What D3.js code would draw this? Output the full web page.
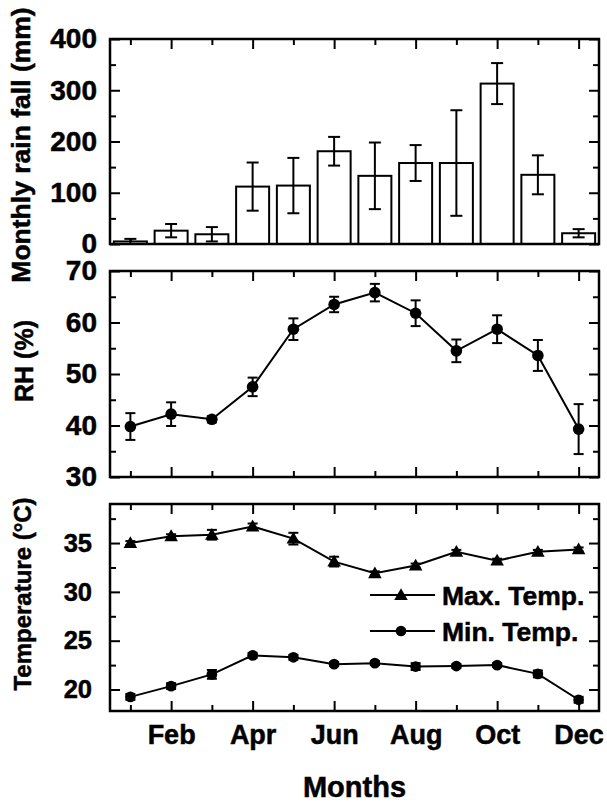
<!DOCTYPE html>
<html><head><meta charset="utf-8">
<script src="https://cdn.jsdelivr.net/npm/d3@7"></script>
<style>
body{margin:0;background:#fff}
text{font-family:"Liberation Sans",Arial,sans-serif;font-weight:bold;fill:#000;stroke:#000;stroke-width:0.5px}
</style>
</head><body>
<svg id="c" width="607" height="802"></svg>
<script>
// ---- data ----
const months = [1,2,3,4,5,6,7,8,9,10,11,12];
const monthNames = ["Jan","Feb","Mar","Apr","May","Jun","Jul","Aug","Sep","Oct","Nov","Dec"];
const majorMonths = [2,4,6,8,10,12];
const minorMonths = [1,3,5,7,9,11];

const rain    = [5, 26, 19, 112, 114, 181, 133, 158, 158, 313, 135, 21];
const rainErr = [5, 13, 14, 47, 54, 28, 65, 35, 103, 40, 38, 8];

const rh    = [39.8, 42.2, 41.2, 47.5, 58.7, 63.5, 65.8, 61.8, 54.5, 58.7, 53.6, 39.3];
const rhErr = [2.6, 2.3, 0.6, 1.8, 2.1, 1.5, 1.7, 2.5, 2.2, 2.7, 3.0, 4.85];

const tMax    = [35.0, 35.7, 35.85, 36.7, 35.45, 33.1, 31.9, 32.7, 34.1, 33.2, 34.1, 34.35];
const tMaxErr = [0.2, 0.2, 0.5, 0.3, 0.6, 0.5, 0.2, 0.2, 0.2, 0.2, 0.2, 0.2];
const tMin    = [19.25, 20.35, 21.55, 23.5, 23.3, 22.6, 22.7, 22.35, 22.4, 22.5, 21.6, 18.95];
const tMinErr = [0.3, 0.3, 0.45, 0.25, 0.25, 0.2, 0.2, 0.35, 0.2, 0.2, 0.35, 0.3];

const rainTicks = [0,100,200,300,400], rainMinor = [50,150,250,350];
const rhTicks = [30,40,50,60,70], rhMinor = [35,45,55,65];
const tempTicks = [20,25,30,35], tempMinor = [22.5,27.5,32.5,37.5];

const legendLabels = ["Max. Temp.", "Min. Temp."];
const titles = {rain:"Monthly rain fall (mm)", rh:"RH (%)", temp:"Temperature (\u00B0C)", x:"Months"};

// ---- layout ----
const svg = d3.select("#c");
const L = 110, R = 599;
const x = d3.scaleLinear().domain([0.5, 12.5]).range([L, R]);
const panels = [
  {key:"rain", top:39, bottom:244, domain:[0,400], ticks:rainTicks, minor:rainMinor, labelPad:13, labelSize:28, titleSize:26.5, titleX:30, titleY:145},
  {key:"rh", top:271, bottom:477, domain:[30,70], ticks:rhTicks, minor:rhMinor, labelPad:13, labelSize:28, titleSize:25, titleX:33, titleY:361},
  {key:"temp", top:504, bottom:711, domain:[17.8,39], ticks:tempTicks, minor:tempMinor, labelPad:18, labelSize:25.5, titleSize:24, titleX:31, titleY:594}
];
panels.forEach(p => p.y = d3.scaleLinear().domain(p.domain).range([p.bottom, p.top]));

const MAJ = 10, MIN = 6, TICKW = 2;
function styleAxis(g){
  g.select(".domain").remove();
  g.selectAll(".tick line").attr("stroke","#000").attr("stroke-width",TICKW);
  return g;
}

panels.forEach((p, idx) => {
  const g = svg.append("g");
  const isBottom = idx === panels.length - 1;
  const xb = g.append("g").attr("transform",`translate(0,${p.bottom})`)
    .call(d3.axisBottom(x).tickValues(majorMonths).tickSize(-MAJ)
      .tickFormat(d => isBottom ? monthNames[d-1] : ""));
  styleAxis(xb);
  xb.selectAll("text").attr("font-size",27).attr("dy",null).attr("y",744-711)
    .attr("font-family","Liberation Sans, Arial, sans-serif").attr("font-weight","bold");
  styleAxis(g.append("g").attr("transform",`translate(0,${p.bottom})`)
    .call(d3.axisBottom(x).tickValues(minorMonths).tickSize(-MIN).tickFormat("")));
  styleAxis(g.append("g").attr("transform",`translate(0,${p.top})`)
    .call(d3.axisTop(x).tickValues(majorMonths).tickSize(-MAJ).tickFormat("")));
  styleAxis(g.append("g").attr("transform",`translate(0,${p.top})`)
    .call(d3.axisTop(x).tickValues(minorMonths).tickSize(-MIN).tickFormat("")));
  const yl = g.append("g").attr("transform",`translate(${L},0)`)
    .call(d3.axisLeft(p.y).tickValues(p.ticks).tickSize(-MAJ).tickPadding(p.labelPad).tickFormat(d3.format("d")));
  styleAxis(yl);
  yl.selectAll("text").attr("font-size",p.labelSize)
    .attr("font-family","Liberation Sans, Arial, sans-serif").attr("font-weight","bold");
  styleAxis(g.append("g").attr("transform",`translate(${L},0)`)
    .call(d3.axisLeft(p.y).tickValues(p.minor).tickSize(-MIN).tickFormat("")));
  styleAxis(g.append("g").attr("transform",`translate(${R},0)`)
    .call(d3.axisRight(p.y).tickValues(p.ticks).tickSize(-MAJ).tickFormat("")));
  styleAxis(g.append("g").attr("transform",`translate(${R},0)`)
    .call(d3.axisRight(p.y).tickValues(p.minor).tickSize(-MIN).tickFormat("")));
  svg.append("text").attr("transform",`translate(${p.titleX},${p.titleY}) rotate(-90)`)
    .attr("text-anchor","middle").attr("font-size",p.titleSize).text(titles[p.key]);
});

// ---- rain bars ----
const pr = panels[0];
const barW = (x(2)-x(1))*0.81;
const gr = svg.append("g");
gr.selectAll("rect.bar").data(months).enter().append("rect")
  .attr("x", d => x(d)-barW/2).attr("width", barW)
  .attr("y", (d,i) => pr.y(rain[i])).attr("height", (d,i) => pr.y(0)-pr.y(rain[i]))
  .attr("fill","#fff").attr("stroke","#000").attr("stroke-width",2);
function errorBars(g, ys, vals, errs, cap){
  months.forEach((m,i) => {
    const cx = x(m), y1 = ys(vals[i]+errs[i]), y0 = ys(vals[i]-errs[i]);
    g.append("line").attr("x1",cx).attr("x2",cx).attr("y1",y1).attr("y2",y0);
    g.append("line").attr("x1",cx-cap/2).attr("x2",cx+cap/2).attr("y1",y1).attr("y2",y1);
    g.append("line").attr("x1",cx-cap/2).attr("x2",cx+cap/2).attr("y1",y0).attr("y2",y0);
  });
  g.selectAll("line").attr("stroke","#000").attr("stroke-width",2);
}
errorBars(gr.append("g"), pr.y, rain, rainErr, 12);

// ---- RH ----
const ph = panels[1];
const gh = svg.append("g");
const lineRH = d3.line().x((d,i)=>x(months[i])).y(d=>ph.y(d));
gh.append("path").attr("d", lineRH(rh)).attr("fill","none").attr("stroke","#000").attr("stroke-width",2);
errorBars(gh.append("g"), ph.y, rh, rhErr, 10);
gh.selectAll("circle").data(rh).enter().append("circle")
  .attr("cx",(d,i)=>x(months[i])).attr("cy",d=>ph.y(d)).attr("r",5.8).attr("fill","#000");

// ---- Temperature ----
const pt = panels[2];
const gt = svg.append("g");
const lineT = d3.line().x((d,i)=>x(months[i])).y(d=>pt.y(d));
const tri = d3.symbol().type(d3.symbolTriangle).size(80);
const cir = d3.symbol().type(d3.symbolCircle).size(90);
gt.append("path").attr("d", lineT(tMax)).attr("fill","none").attr("stroke","#000").attr("stroke-width",2);
gt.append("path").attr("d", lineT(tMin)).attr("fill","none").attr("stroke","#000").attr("stroke-width",2);
errorBars(gt.append("g"), pt.y, tMax, tMaxErr, 10);
errorBars(gt.append("g"), pt.y, tMin, tMinErr, 10);
gt.selectAll("path.tri").data(tMax).enter().append("path").attr("class","tri")
  .attr("d", tri).attr("transform",(d,i)=>`translate(${x(months[i])},${pt.y(d)+1})`).attr("fill","#000");
gt.selectAll("path.cir").data(tMin).enter().append("path").attr("class","cir")
  .attr("d", cir).attr("transform",(d,i)=>`translate(${x(months[i])},${pt.y(d)})`).attr("fill","#000");

// legend
const lg = svg.append("g");
[{sym:tri, y:595, dy:1},{sym:cir, y:631, dy:0}].forEach((it,i)=>{
  lg.append("line").attr("x1",370).attr("x2",435).attr("y1",it.y).attr("y2",it.y).attr("stroke","#000").attr("stroke-width",2);
  lg.append("path").attr("d",it.sym).attr("transform",`translate(401,${it.y+it.dy})`).attr("fill","#000");
  lg.append("text").attr("x",442).attr("y",it.y+9.5).attr("font-size",26.5).text(legendLabels[i]);
});

// x title
svg.append("text").attr("x",(L+R)/2).attr("y",797).attr("text-anchor","middle").attr("font-size",29).text(titles.x);

// frames
panels.forEach(p => svg.append("rect").attr("x",L).attr("y",p.top).attr("width",R-L).attr("height",p.bottom-p.top)
  .attr("fill","none").attr("stroke","#000").attr("stroke-width",2.5));
</script>
</body></html>
